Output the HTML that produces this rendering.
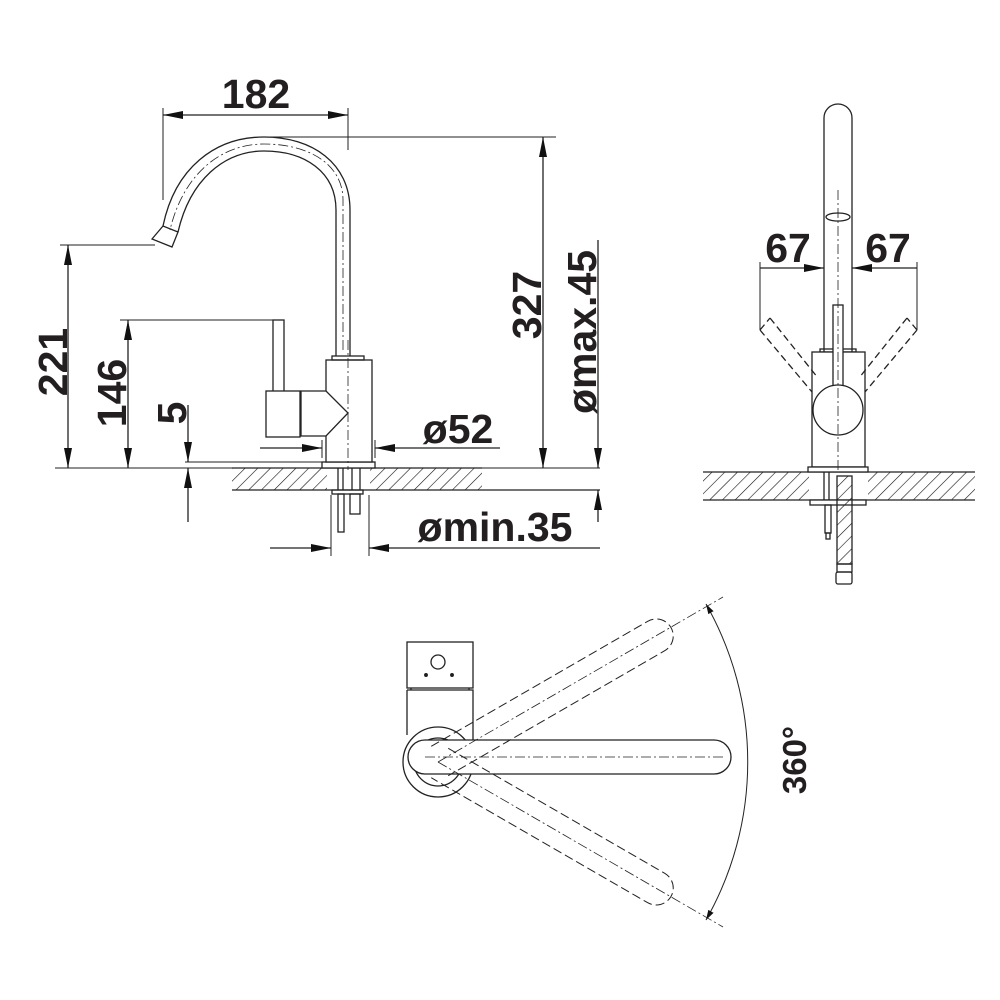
<!DOCTYPE html>
<html><head><meta charset="utf-8"><style>
html,body{margin:0;padding:0;background:#fff}
svg{display:block}
text{font-family:"Liberation Sans",Arial,sans-serif;font-weight:bold;fill:#231f20}
</style></head><body>
<svg width="1000" height="1000" viewBox="0 0 1000 1000" xmlns="http://www.w3.org/2000/svg">
<defs>
<pattern id="h" width="9" height="9" patternUnits="userSpaceOnUse" patternTransform="rotate(45)">
<line x1="0" y1="0" x2="0" y2="9" stroke="#111" stroke-width="1.2"/>
</pattern>
<marker id="a" viewBox="0 0 10 6" refX="10" refY="3" markerWidth="10" markerHeight="6" markerUnits="userSpaceOnUse" orient="auto-start-reverse"><path d="M0,0 L10,3 L0,6z" fill="#111"/></marker>
<marker id="b" viewBox="0 0 20 8" refX="20" refY="4" markerWidth="22" markerHeight="8" markerUnits="userSpaceOnUse" orient="auto-start-reverse"><path d="M0,0 L20,4 L0,8z" fill="#111"/></marker>
</defs>
<g fill="none" stroke="#222" stroke-width="1.3">
<rect x="232" y="468" width="95" height="22" fill="url(#h)" stroke="none"/>
<rect x="370" y="468" width="112" height="22" fill="url(#h)" stroke="none"/>
<line x1="232" y1="468" x2="482" y2="468"/>
<line x1="232" y1="490" x2="600" y2="490"/>
<line x1="55" y1="468" x2="232" y2="468" stroke-width="1"/>
<line x1="482" y1="468" x2="600" y2="468" stroke-width="1"/>
<line x1="185" y1="462" x2="322" y2="462" stroke-width="1"/>
<rect x="322" y="462" width="53" height="6" fill="#fff"/>
<rect x="326" y="360" width="46" height="102" fill="#fff"/>
<rect x="332" y="356" width="32" height="4"/>
<path d="M336,356 L336,210 C336,172 305,151 264,151 C224,151 190,180 178,232"/>
<path d="M350,356 L350,210 C350,163 312,137 264,137 C215,137 175,168 163,226"/>
<path d="M152,239 L163,226 L178,232 L172,247 Z" fill="#fff"/>
<path d="M343,350 L343,200 C343,165 310,144 264,144 C220,144 183,175 170,230" stroke-dasharray="10,3,2,3" stroke-width="0.8"/>
<rect x="273" y="320" width="11" height="72" fill="#fff"/>
<rect x="266" y="391" width="34" height="46" fill="#fff"/>
<path d="M301,391 L326,391 L348,413 L326,436 L301,436 Z" fill="#fff"/>
<line x1="348" y1="340" x2="348" y2="470" stroke-dasharray="10,3,2,3" stroke-width="0.8"/>
<rect x="332" y="490" width="31" height="4"/>
<line x1="338" y1="468" x2="338" y2="490"/><line x1="343" y1="468" x2="343" y2="490"/>
<line x1="352" y1="468" x2="352" y2="490"/><line x1="360" y1="468" x2="360" y2="490"/>
<rect x="338" y="494" width="6" height="38"/>
<rect x="350" y="494" width="10" height="20"/>
<line x1="163" y1="115" x2="348" y2="115" marker-start="url(#b)" marker-end="url(#b)"/>
<line x1="163" y1="108" x2="163" y2="200" stroke-width="1"/>
<line x1="348" y1="108" x2="348" y2="150" stroke-width="1"/>
<line x1="270" y1="137" x2="556" y2="137" stroke-width="1"/>
<line x1="543" y1="137" x2="543" y2="468" marker-start="url(#b)" marker-end="url(#b)"/>
<line x1="60" y1="245" x2="155" y2="245" stroke-width="1"/>
<line x1="68" y1="245" x2="68" y2="468" marker-start="url(#b)" marker-end="url(#b)"/>
<line x1="120" y1="320" x2="275" y2="320" stroke-width="1"/>
<line x1="128" y1="320" x2="128" y2="468" marker-start="url(#b)" marker-end="url(#b)"/>
<line x1="188" y1="405" x2="188" y2="462" marker-end="url(#b)"/>
<line x1="188" y1="522" x2="188" y2="468" marker-end="url(#b)"/>
<line x1="598" y1="240" x2="598" y2="468" marker-end="url(#b)"/>
<line x1="598" y1="522" x2="598" y2="490" marker-end="url(#b)"/>
<line x1="260" y1="448" x2="322" y2="448" marker-end="url(#b)"/>
<line x1="500" y1="448" x2="375" y2="448" marker-end="url(#b)"/>
<line x1="322" y1="440" x2="322" y2="458" stroke-width="1"/>
<line x1="375" y1="440" x2="375" y2="458" stroke-width="1"/>
<line x1="270" y1="548" x2="331" y2="548" marker-end="url(#b)"/>
<line x1="600" y1="548" x2="369" y2="548" marker-end="url(#b)"/>
<line x1="331" y1="495" x2="331" y2="556" stroke-width="1"/>
<line x1="369" y1="495" x2="369" y2="556" stroke-width="1"/>
<rect x="703" y="472" width="106" height="28" fill="url(#h)" stroke="none"/>
<rect x="868" y="472" width="107" height="28" fill="url(#h)" stroke="none"/>
<line x1="703" y1="472" x2="975" y2="472"/><line x1="703" y1="500" x2="975" y2="500"/>
<path d="M824,352 L824,118 A14,14 0 0 1 852,118 L852,352" fill="#fff"/>
<ellipse cx="838" cy="217" rx="12" ry="4"/>
<rect x="820" y="349" width="36" height="3"/>
<rect x="812" y="352" width="53" height="115" fill="#fff"/>
<rect x="808" y="467" width="60" height="5" fill="#fff"/>
<path d="M760,330 L770,318 M760,330 L812,392 M770,318 L818,378" stroke-dasharray="7,4"/>
<path d="M917,330 L907,318 M917,330 L865,392 M907,318 L859,378" stroke-dasharray="7,4"/>
<rect x="833" y="305" width="10" height="95" fill="#fff"/>
<circle cx="838" cy="410" r="25" fill="#fff"/>
<line x1="838" y1="190" x2="838" y2="470" stroke-dasharray="10,3,2,3" stroke-width="0.8"/>
<line x1="760" y1="262" x2="760" y2="330" stroke-width="1"/>
<line x1="917" y1="262" x2="917" y2="330" stroke-width="1"/>
<line x1="760" y1="268" x2="824" y2="268" marker-end="url(#b)"/>
<line x1="917" y1="268" x2="852" y2="268" marker-end="url(#b)"/>
<rect x="810" y="500" width="56" height="5" fill="#fff"/>
<line x1="824" y1="472" x2="824" y2="500"/><line x1="829" y1="472" x2="829" y2="500"/>
<rect x="825" y="505" width="6" height="28"/><rect x="826" y="533" width="4" height="6"/>
<rect x="837" y="476" width="15" height="88" fill="url(#h)"/>
<rect x="837" y="564" width="15" height="8"/><rect x="836" y="572" width="16" height="12" rx="2"/>
<rect x="407" y="642" width="66" height="46"/>
<circle cx="438" cy="662" r="7"/>
<circle cx="426" cy="675" r="1.3" fill="#111"/><circle cx="452" cy="675" r="1.3" fill="#111"/>
<line x1="411" y1="688" x2="411" y2="690"/><line x1="469" y1="688" x2="469" y2="690"/>
<path d="M407,690 L473,690 L473,742"/>
<path d="M407,690 L407,735"/>
<circle cx="438" cy="762" r="35" fill="#fff"/>
<circle cx="438" cy="762" r="24"/>
<path d="M425,740 L714,740 A17,17 0 0 1 714,774 L425,774 A17,17 0 0 1 425,740" fill="#fff"/>
<line x1="425" y1="757" x2="725" y2="757" stroke-dasharray="10,3,2,3" stroke-width="0.8"/>
<g stroke-dasharray="9,4" stroke-width="1">
<g transform="rotate(-30 438 762)"><path d="M440,745 L690,745 A17,17 0 0 1 690,779 L440,779"/></g>
<g transform="rotate(30 438 762)"><path d="M440,745 L690,745 A17,17 0 0 1 690,779 L440,779"/></g>
</g>
<line x1="438" y1="762" x2="723" y2="597" stroke-dasharray="10,3,2,3" stroke-width="0.8"/>
<line x1="438" y1="762" x2="723" y2="927" stroke-dasharray="10,3,2,3" stroke-width="0.8"/>
<path d="M706,604 A320,320 0 0 1 706,920" marker-start="url(#a)" marker-end="url(#a)" stroke-width="1"/>
</g>
<text x="256" y="108" font-size="41" text-anchor="middle">182</text>
<text transform="translate(541,305) rotate(-90)" font-size="41" text-anchor="middle">327</text>
<text transform="translate(596,332) rotate(-90)" font-size="41" text-anchor="middle">ømax.45</text>
<text transform="translate(67,362) rotate(-90)" font-size="41" text-anchor="middle">221</text>
<text transform="translate(126,393) rotate(-90)" font-size="41" text-anchor="middle">146</text>
<text transform="translate(186,413) rotate(-90)" font-size="41" text-anchor="middle">5</text>
<text x="458" y="443" font-size="41" text-anchor="middle">ø52</text>
<text x="495" y="541" font-size="41" text-anchor="middle">ømin.35</text>
<text x="788" y="262" font-size="41" text-anchor="middle">67</text>
<text x="888" y="262" font-size="41" text-anchor="middle">67</text>
<text transform="translate(806,760) rotate(-90)" font-size="33" text-anchor="middle">360°</text>
</svg>
</body></html>
